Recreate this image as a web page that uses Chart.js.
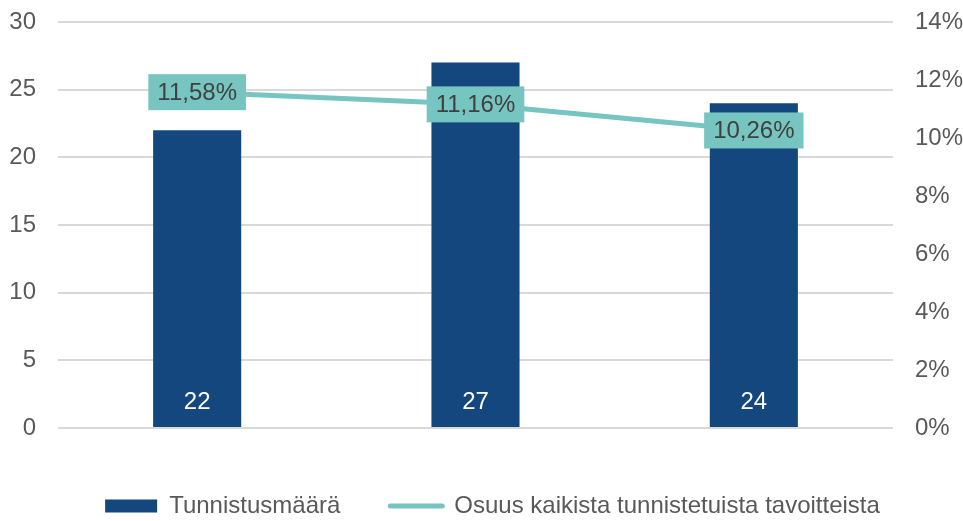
<!DOCTYPE html>
<html>
<head>
<meta charset="utf-8">
<script src="https://cdn.jsdelivr.net/npm/chart.js@4/dist/chart.umd.min.js"></script>
<style>
  html, body { margin: 0; padding: 0; background: #ffffff; }
  #wrap { width: 963px; height: 521px; }
</style>
</head>
<body>
<div id="wrap"><canvas id="c" width="963" height="521"></canvas></div>
<script>
const categories = ['2021', '2022', '2023'];
const countValues = [22, 27, 24];
const shareValues = [11.58, 11.16, 10.26];
const leftTicks = [0, 5, 10, 15, 20, 25, 30];
const rightTicks = [0, 2, 4, 6, 8, 10, 12, 14];
const seriesNames = ['Tunnistusmäärä', 'Osuus kaikista tunnistetuista tavoitteista'];

const BAR_COLOR = '#13477D';
const LINE_COLOR = '#77C5C1';
const TEXT_COLOR = '#595959';
const FONT = "'Liberation Sans', Arial, sans-serif";

const fmtPct = v => v.toFixed(2).replace('.', ',') + '%';

const labelPlugin = {
  id: 'valueLabels',
  afterLayout(chart) {
    if (chart.legend) { chart.legend.left += 11; chart.legend.right += 11; }
  },
  afterDatasetsDraw(chart) {
    const ctx = chart.ctx;
    ctx.save();
    ctx.font = '24px ' + FONT;
    ctx.textAlign = 'center';
    ctx.textBaseline = 'middle';
    const barMeta = chart.getDatasetMeta(0);
    barMeta.data.forEach((el, i) => {
      ctx.fillStyle = '#ffffff';
      ctx.fillText(String(countValues[i]), el.x, el.base - 25);
    });
    const lineMeta = chart.getDatasetMeta(1);
    lineMeta.data.forEach((el, i) => {
      const txt = fmtPct(shareValues[i]);
      const w = ctx.measureText(txt).width + 18;
      const h = 36;
      ctx.fillStyle = LINE_COLOR;
      ctx.fillRect(el.x - w / 2, el.y - h / 2, w, h);
      ctx.fillStyle = '#404040';
      ctx.fillText(txt, el.x, el.y + 1);
    });
    ctx.restore();
  }
};

const vFit = (w) => (s) => { s.width = w; s.paddingTop = 0; s.paddingBottom = 0; };

new Chart(document.getElementById('c'), {
  data: {
    labels: categories,
    datasets: [
      {
        type: 'bar',
        label: seriesNames[0],
        data: countValues,
        backgroundColor: BAR_COLOR,
        yAxisID: 'y',
        order: 1,
        barPercentage: 0.3165,
        categoryPercentage: 1.0
      },
      {
        type: 'line',
        label: seriesNames[1],
        data: shareValues,
        borderColor: LINE_COLOR,
        backgroundColor: LINE_COLOR,
        borderWidth: 5,
        pointRadius: 0,
        tension: 0,
        yAxisID: 'y2',
        order: 0
      }
    ]
  },
  options: {
    responsive: false,
    animation: false,
    events: [],
    layout: { padding: { top: 22, left: 0, right: 0, bottom: -7 } },
    plugins: {
      tooltip: { enabled: false },
      legend: {
        position: 'bottom',
        labels: {
          usePointStyle: true,
          pointStyleWidth: 52,
          boxHeight: 13,
          padding: 50,
          color: TEXT_COLOR,
          font: { family: FONT, size: 24 },
          generateLabels: (chart) => chart.data.datasets.map((ds, i) => ({
            text: ds.label,
            fillStyle: i === 0 ? BAR_COLOR : LINE_COLOR,
            strokeStyle: i === 0 ? BAR_COLOR : LINE_COLOR,
            lineWidth: i === 0 ? 0 : 5,
            lineCap: 'round',
            pointStyle: i === 0 ? 'rect' : 'line',
            fontColor: TEXT_COLOR,
            hidden: false,
            datasetIndex: i
          }))
        }
      }
    },
    scales: {
      x: {
        offset: true,
        grid: { display: false, drawTicks: false },
        border: { display: false },
        ticks: { color: TEXT_COLOR, font: { family: FONT, size: 24 }, padding: 16 },
        afterFit: s => { s.height = 16; }
      },
      y: {
        position: 'left',
        min: 0, max: 30,
        afterBuildTicks: s => { s.ticks = leftTicks.map(v => ({ value: v })); },
        grid: { color: '#D9D9D9', lineWidth: 2, drawTicks: false },
        border: { display: false },
        ticks: { color: TEXT_COLOR, font: { family: FONT, size: 24 }, padding: 22 },
        afterFit: vFit(58)
      },
      y2: {
        position: 'right',
        min: 0, max: 14,
        afterBuildTicks: s => { s.ticks = rightTicks.map(v => ({ value: v })); },
        grid: { drawOnChartArea: false, drawTicks: false },
        border: { display: false },
        ticks: { color: TEXT_COLOR, font: { family: FONT, size: 24 }, padding: 22, callback: v => v + '%' },
        afterFit: vFit(70)
      }
    }
  },
  plugins: [labelPlugin]
});
</script>
</body>
</html>
